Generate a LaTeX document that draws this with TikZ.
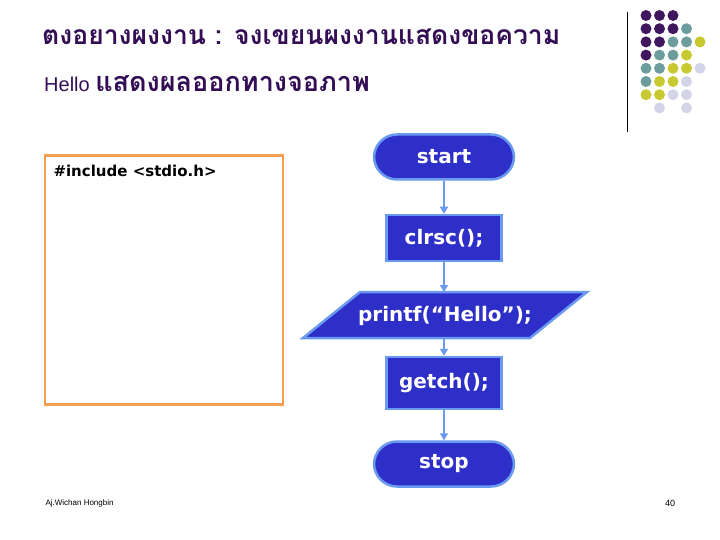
\documentclass[tikz,border=0pt]{standalone}
\usepackage{fontspec}
\usetikzlibrary{arrows.meta}
\setmainfont{Liberation Sans}
\newfontfamily\thaifont[Script=Thai]{Loma}
\newfontfamily\vfont{DejaVu Sans}
\definecolor{ttl}{HTML}{330E55}
\definecolor{dP}{HTML}{40175F}
\definecolor{dT}{HTML}{6C9C9C}
\definecolor{dY}{HTML}{C8C830}
\definecolor{dL}{HTML}{D4D4E8}
\definecolor{fbl}{HTML}{2E2EC8}
\definecolor{lbl}{HTML}{6A9AF0}
\definecolor{org}{HTML}{F0A050}
\begin{document}
\begin{tikzpicture}[x=1pt,y=-1pt,
  blk/.style={draw=lbl,line width=2.5pt,fill=fbl,text=white,font=\vfont\bfseries\fontsize{20}{24}\selectfont},
  term/.style={blk,rounded corners=23pt,minimum width=140pt,minimum height=45pt},
  procbox/.style={blk,minimum width=115pt,minimum height=46pt},
  arr/.style={draw=lbl,line width=2.5pt,-{Triangle[length=7pt,width=8pt]}},
  dot/.style={circle,minimum size=11pt,inner sep=0pt}]
\useasboundingbox (0,0) rectangle (720,540);
\node[anchor=west,text=ttl,inner sep=0pt,font=\thaifont\bfseries\fontsize{26.5}{30}\selectfont] (title) at (42,37) {ตงอยางผงงาน : จงเขยนผงงานแสดงขอความ};
\node[anchor=west,text=ttl,inner sep=0pt] (sub) at (44,84) {\fontsize{20}{24}\selectfont Hello \thaifont\bfseries\fontsize{27}{30}\selectfont แสดงผลออกทางจอภาพ};
\draw[black,line width=1pt] (627,12) -- (627,132);
\foreach \r/\cols in {0/{0/dP,1/dP,2/dP},1/{0/dP,1/dP,2/dP,3/dT},2/{0/dP,1/dP,2/dT,3/dT,4/dY},3/{0/dP,1/dT,2/dT,3/dY},4/{0/dT,1/dT,2/dY,3/dY,4/dL},5/{0/dT,1/dY,2/dY,3/dL},6/{0/dY,1/dY,2/dL,3/dL},7/{1/dL,3/dL}}{
  \foreach \c/\col in \cols { \node[dot,fill=\col] (d\r\c) at ({646+13.5*\c},{15.5+13.2*\r}) {}; } }
\node[draw=org,line width=2.5pt,minimum width=238pt,minimum height=249pt] (box) at (164,280) {};
\node[anchor=west,font=\vfont\bfseries\fontsize{15}{18}\selectfont] (inc) at (50,171) {\#include <stdio.h>};
\node[term] (start) at (444,157) {start};
\node[procbox] (clr) at (444,238) {clrsc();};
\draw[blk] (360,292) -- (587,292) -- (530,338) -- (303,338) -- cycle;
\node[text=white,font=\vfont\bfseries\fontsize{20}{24}\selectfont] (pr) at (445,316) {printf(“Hello”);};
\coordinate (prt) at (444,292); \coordinate (prb) at (444,338);
\node[procbox,minimum height=52pt] (get) at (444,383) {getch();};
\node[term] (stop) at (444,464) {stop};
\draw[arr] (start) -- (clr);
\draw[arr] (clr) -- (prt);
\draw[arr] (prb) -- (get);
\draw[arr] (get) -- (stop);
\node[anchor=west,font=\fontsize{8}{10}\selectfont] (auth) at (42,503) {Aj.Wichan Hongbin};
\node[font=\fontsize{9}{10}\selectfont] (pg) at (670,503) {40};
\end{tikzpicture}
\end{document}
